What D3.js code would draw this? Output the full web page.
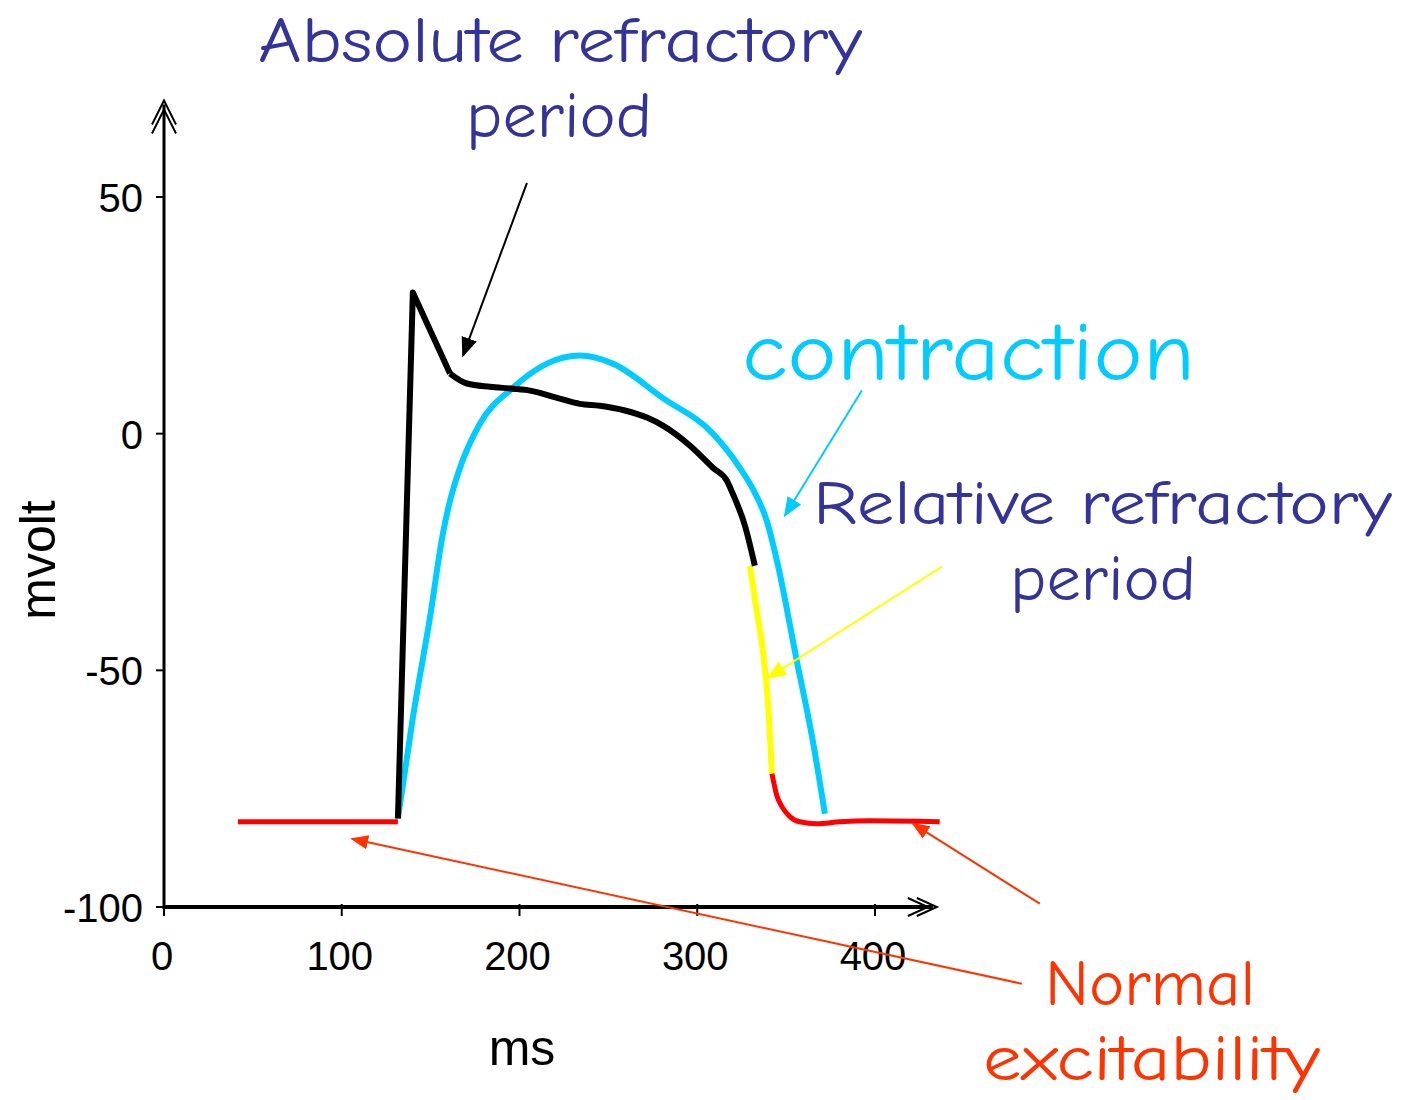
<!DOCTYPE html>
<html>
<head>
<meta charset="utf-8">
<script src="https://cdn.jsdelivr.net/npm/d3@7"></script>
<style>
  html, body { margin: 0; padding: 0; background: #fff; }
  svg { display: block; }
</style>
</head>
<body>
<div id="chart"></div>
<script>
'use strict';

// ---------- data (ms, mV) ---------- //
var xTicks = [0, 100, 200, 300, 400];
var yTicks = [-100, -50, 0, 50];

// resting baseline before the spike
var restTime = [41.6, 131.6];
var restVolt = [-82, -82];

// upstroke and spike (black, straight segments)
var spikeTime = [131.6, 140.0, 160.9];
var spikeVolt = [-81.3, 29.8, 12.7];

// plateau, absolute refractory part (black)
var apTime = [160.9, 170.4, 183.4, 196.3, 205.9, 222.7, 234.0, 245.2, 259.3, 271.7, 280.7, 295.8, 308.8, 316.6, 320.0, 326.8, 332.4];
var apVolt = [12.7, 10.6, 9.9, 9.5, 9.1, 7.4, 6.3, 5.9, 4.9, 3.4, 1.7, -2.5, -7.2, -9.9, -12.7, -19.4, -27.9];

// relative refractory part (yellow)
var relTime = [329.6, 333.5, 336.9, 339.7, 342.0];
var relVolt = [-27.9, -37.4, -45.8, -56.4, -71.8];

// back to normal excitability (red)
var tailTime = [342.0, 344.8, 347.6, 352.1, 357.7, 367.3, 380.2, 397.1, 436.4];
var tailVolt = [-71.8, -76.5, -78.8, -80.9, -82.0, -82.4, -82.0, -81.8, -82.0];

// contraction (cyan)
var conTime = [131.6, 140.0, 149.6, 156.9, 160.9, 166.5, 177.7, 196.3, 215.4, 234.0, 252.5, 280.7, 308.8, 323.9, 332.4, 339.1, 344.8, 356.0, 365.0, 371.8];
var conVolt = [-81.3, -60.0, -38.9, -21.1, -14.2, -7.2, 2.1, 9.7, 14.8, 16.5, 14.8, 7.5, 0.0, -7.2, -12.5, -18.4, -26.8, -48.0, -64.9, -80.3];

// annotation arrows [t0, v0, t1, v1]
var arrowAbs = [204.2, 53.0, 168.2, 16.5];
var arrowCon = [392.6, 9.1, 349.3, -17.3];
var arrowRel = [437.6, -28.1, 339.7, -51.6];
var arrowNormA = [482.6, -116.2, 105.7, -85.6];
var arrowNormB = [492.7, -99.3, 421.3, -82.4];

// ---------- set up ---------- //
var width = 1411;
var height = 1100;
var comic = '"Comic Sans MS", "Comic Neue", "DejaVu Sans", sans-serif';
var plain = '"Liberation Sans", Arial, sans-serif';

var x = d3.scaleLinear().domain([0, 400]).range([164, 875]);
var y = d3.scaleLinear().domain([-100, 50]).range([907, 197]);

var svg = d3.select('#chart').append('svg')
  .attr('width', width)
  .attr('height', height);

svg.append('rect').attr('width', width).attr('height', height).attr('fill', '#fff');

var defs = svg.append('defs');
function marker(id, color, size) {
  defs.append('marker')
    .attr('id', id)
    .attr('viewBox', '0 0 10 10')
    .attr('refX', 9).attr('refY', 5)
    .attr('markerWidth', size).attr('markerHeight', size)
    .attr('markerUnits', 'userSpaceOnUse')
    .attr('orient', 'auto')
    .append('path')
    .attr('d', 'M0,1 L10,5 L0,9 Z')
    .attr('fill', color);
}
marker('headBlack', '#000', 20);
marker('headCyan', '#00ccff', 20);
marker('headYellow', '#ffff00', 20);
marker('headRed', '#ff3300', 18);

// ---------- axes ---------- //
var axes = svg.append('g');
var xEnd = 434.8, yEnd = 70.4;

axes.append('line')
  .attr('x1', x(0)).attr('x2', x(xEnd) - 4)
  .attr('y1', y(-100)).attr('y2', y(-100))
  .attr('stroke', '#000').attr('stroke-width', 4);
axes.append('line')
  .attr('x1', x(0)).attr('x2', x(0))
  .attr('y1', y(-100) + 2).attr('y2', y(yEnd) + 4)
  .attr('stroke', '#000').attr('stroke-width', 3);

// double chevron arrow heads
[0, 9].forEach(function (off) {
  var tx = x(xEnd) - off, ty = y(-100);
  axes.append('polyline')
    .attr('points', [[tx - 20, ty - 9], [tx, ty], [tx - 20, ty + 9]].join(' '))
    .attr('fill', 'none').attr('stroke', '#000').attr('stroke-width', 2);
  var ux = x(0), uy = y(yEnd) + off;
  axes.append('polyline')
    .attr('points', [[ux - 12, uy + 24], [ux, uy], [ux + 12, uy + 24]].join(' '))
    .attr('fill', 'none').attr('stroke', '#000').attr('stroke-width', 2);
});

axes.selectAll('.xt').data(xTicks).enter().append('line')
  .attr('x1', function (d) { return x(d); }).attr('x2', function (d) { return x(d); })
  .attr('y1', y(-100) - 3).attr('y2', y(-100) + 9)
  .attr('stroke', '#000').attr('stroke-width', 2);
axes.selectAll('.yt').data(yTicks).enter().append('line')
  .attr('x1', x(0) - 8).attr('x2', x(0))
  .attr('y1', function (d) { return y(d); }).attr('y2', function (d) { return y(d); })
  .attr('stroke', '#000').attr('stroke-width', 2);

axes.selectAll('.xl').data(xTicks).enter().append('text')
  .attr('x', function (d) { return x(d) - 2; })
  .attr('y', y(-100) + 63)
  .attr('text-anchor', 'middle')
  .attr('font-family', plain).attr('font-size', 40)
  .text(function (d) { return d; });
axes.selectAll('.yl').data(yTicks).enter().append('text')
  .attr('x', x(0) - 21)
  .attr('y', function (d) { return y(d) + 15; })
  .attr('text-anchor', 'end')
  .attr('font-family', plain).attr('font-size', 40)
  .text(function (d) { return d; });

axes.append('text')
  .attr('x', 522).attr('y', 1065)
  .attr('text-anchor', 'middle')
  .attr('font-family', plain).attr('font-size', 50)
  .text('ms');
axes.append('text')
  .attr('transform', 'translate(55,560) rotate(-90)')
  .attr('text-anchor', 'middle')
  .attr('font-family', plain).attr('font-size', 50)
  .text('mvolt');

// ---------- curves ---------- //
function series(ts, vs) {
  return ts.map(function (t, i) { return [t, vs[i]]; });
}
var smooth = d3.line()
  .x(function (d) { return x(d[0]); })
  .y(function (d) { return y(d[1]); })
  .curve(d3.curveMonotoneX);
var straight = d3.line()
  .x(function (d) { return x(d[0]); })
  .y(function (d) { return y(d[1]); });

var curves = [
  { pts: series(conTime, conVolt), color: '#00ccff', w: 6, gen: smooth },
  { pts: series(restTime, restVolt), color: '#ff0000', w: 5, gen: straight },
  { pts: series(tailTime, tailVolt), color: '#ff0000', w: 5, gen: smooth },
  { pts: series(relTime, relVolt), color: '#ffff00', w: 6, gen: smooth },
  { pts: series(apTime, apVolt), color: '#000000', w: 6, gen: smooth },
  { pts: series(spikeTime, spikeVolt), color: '#000000', w: 6, gen: straight }
];

svg.append('g').selectAll('path').data(curves).enter().append('path')
  .attr('d', function (d) { return d.gen(d.pts); })
  .attr('fill', 'none')
  .attr('stroke', function (d) { return d.color; })
  .attr('stroke-width', function (d) { return d.w; })
  .attr('stroke-linejoin', 'round');

// ---------- annotations ---------- //
var arrows = [
  { a: arrowAbs, color: '#000', w: 2, m: 'headBlack' },
  { a: arrowCon, color: '#00ccff', w: 2, m: 'headCyan' },
  { a: arrowRel, color: '#ffff00', w: 2, m: 'headYellow' },
  { a: arrowNormA, color: '#ff3300', w: 2, m: 'headRed' },
  { a: arrowNormB, color: '#ff3300', w: 2, m: 'headRed' }
];
svg.append('g').selectAll('line').data(arrows).enter().append('line')
  .attr('x1', function (d) { return x(d.a[0]); })
  .attr('y1', function (d) { return y(d.a[1]); })
  .attr('x2', function (d) { return x(d.a[2]); })
  .attr('y2', function (d) { return y(d.a[3]); })
  .attr('stroke', function (d) { return d.color; })
  .attr('stroke-width', function (d) { return d.w; })
  .attr('marker-end', function (d) { return 'url(#' + d.m + ')'; });

var labels = [
  { t: 'Absolute refractory', x: 258, y: 62, len: 604, size: 64, color: '#333399' },
  { t: 'period', x: 466, y: 137, len: 186, size: 64, color: '#333399' },
  { t: 'contraction', x: 742, y: 380, len: 453, size: 82, color: '#00ccff' },
  { t: 'Relative refractory', x: 813, y: 524, len: 579, size: 63, color: '#333399' },
  { t: 'period', x: 1010, y: 600, len: 186, size: 64, color: '#333399' },
  { t: 'Normal', x: 1045, y: 1005, len: 210, size: 64, color: '#ff3300' },
  { t: 'excitability', x: 983, y: 1080, len: 337, size: 64, color: '#ff3300' }
];
svg.append('g').selectAll('text').data(labels).enter().append('text')
  .attr('x', function (d) { return d.x; })
  .attr('y', function (d) { return d.y; })
  .attr('textLength', function (d) { return d.len; })
  .attr('lengthAdjust', 'spacingAndGlyphs')
  .attr('font-family', comic)
  .attr('font-size', function (d) { return d.size; })
  .attr('fill', function (d) { return d.color; })
  .text(function (d) { return d.t; });
</script>
</body>
</html>
